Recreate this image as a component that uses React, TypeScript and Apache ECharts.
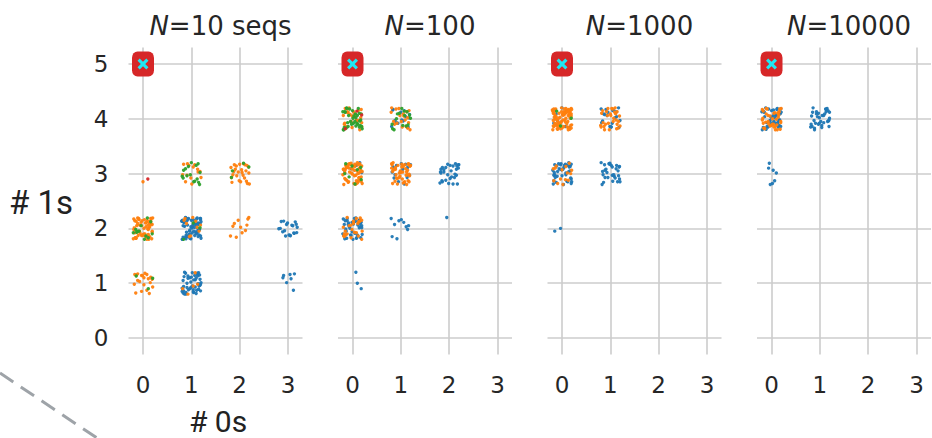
import React, { useEffect, useRef } from "react";
import * as echarts from "echarts";

const W = 932;
const H = 438;

const TITLES = ["10 seqs", "100", "1000", "10000"];
const X_TICKS = [0, 1, 2, 3];
const Y_TICKS = [0, 1, 2, 3, 4, 5];
const X_MIN = -0.3;
const X_MAX = 3.3;
const Y_MIN = -0.3;
const Y_MAX = 5.3;

const BLUE = "#1f77b4";
const ORANGE = "#ff7f0e";
const GREEN = "#2ca02c";
const RED = "#d62728";
const CYAN = "#1fe8f4";

// hand-typed jitter offsets (strip-plot jitter, +-0.2)
const JX = [
  -0.17, 0.08, 0.15, -0.03, 0.19, -0.11, 0.02, -0.19, 0.12, -0.07,
  0.05, 0.17, -0.14, 0.1, -0.01, -0.16, 0.18, 0.04, -0.09, 0.13,
  -0.05, 0.2, -0.12, 0.07, -0.18, 0.01, 0.14, -0.08, 0.11, -0.2,
  0.06, 0.16, -0.04, -0.13, 0.09, 0.19, -0.15, 0.03, -0.1, 0.12,
  -0.02, 0.17, -0.19, 0.05, 0.14, -0.06, -0.16, 0.1, 0.0, -0.12,
  0.18, 0.07, -0.09, 0.15, -0.17, 0.02, 0.11, -0.14, 0.2, -0.03,
  0.08, -0.18, 0.13, -0.07, 0.04, 0.16, -0.11, -0.01, 0.19, -0.15,
];
const JY = [
  0.12, -0.18, 0.05, 0.16, -0.07, -0.13, 0.19, 0.01, -0.1, 0.14,
  -0.02, 0.08, -0.2, 0.17, -0.05, 0.1, -0.15, 0.03, 0.18, -0.09,
  0.13, -0.17, 0.06, -0.01, 0.15, -0.12, 0.2, -0.06, 0.09, -0.19,
  0.02, 0.11, -0.14, 0.18, -0.04, 0.07, -0.16, 0.14, -0.08, 0.0,
  0.17, -0.11, 0.04, -0.18, 0.12, 0.19, -0.03, -0.13, 0.08, -0.2,
  0.15, 0.01, -0.07, 0.1, -0.15, 0.06, 0.16, -0.1, -0.02, 0.13,
  -0.19, 0.09, 0.03, -0.12, 0.18, -0.05, 0.11, -0.17, 0.05, -0.08,
  0.14, -0.14, 0.07,
];

// clusters: [#0s, #1s, count, spreadX, spreadY]
const P1_BLUE = [[1, 2, 68], [1, 1, 48], [3, 2, 20, 1, 0.7], [3, 1, 7, 0.7, 1]];
const P1_ORANGE = [[0, 2, 58], [0, 1, 22], [1, 3, 14], [2, 3, 26], [2, 2, 11], [1, 2, 10], [1, 1, 5]];
const P1_GREEN = [[1, 3, 16], [2, 3, 4], [0, 2, 12], [0, 1, 3], [1, 2, 3]];
const P1_SINGLE_ORANGE = [[0.0, 2.85]];
const P1_SINGLE_RED = [[0.1, 2.9]];

const P2_BLUE = [[0, 2, 40], [1, 2, 10], [2, 3, 30], [1, 3, 15], [1, 4, 15], [0, 3, 5]];
const P2_ORANGE = [[0, 3, 60], [1, 3, 45], [0, 4, 25], [1, 4, 20], [0, 2, 25]];
const P2_GREEN = [[0, 4, 35], [1, 4, 15], [0, 3, 8]];
const P2_RED = [[0, 4, 3]];
const P2_SINGLE_BLUE = [[1.95, 2.2], [0.07, 1.2], [0.1, 1.0], [0.18, 0.9]];

const P3_BLUE = [[0, 4, 8], [1, 4, 20], [0, 3, 40], [1, 3, 30]];
const P3_ORANGE = [[0, 4, 80], [1, 4, 30], [0, 3, 15]];
const P3_GREEN = [[0, 4, 3]];
const P3_SINGLE_BLUE = [[-0.15, 1.95], [-0.03, 2.0]];

const P4_BLUE = [[0, 4, 40], [1, 4, 35], [0, 3, 7, 0.5, 1]];
const P4_ORANGE = [[0, 4, 40]];

const TARGET = [[0, 5]];

const PANELS = [
  { blue: P1_BLUE, orange: P1_ORANGE, green: P1_GREEN, red: [], sBlue: [], sOrange: P1_SINGLE_ORANGE, sRed: P1_SINGLE_RED },
  { blue: P2_BLUE, orange: P2_ORANGE, green: P2_GREEN, red: P2_RED, sBlue: P2_SINGLE_BLUE, sOrange: [], sRed: [] },
  { blue: P3_BLUE, orange: P3_ORANGE, green: P3_GREEN, red: [], sBlue: P3_SINGLE_BLUE, sOrange: [], sRed: [] },
  { blue: P4_BLUE, orange: P4_ORANGE, green: [], red: [], sBlue: [], sOrange: [], sRed: [] },
];

function expand(clusters: number[][], seed: number): number[][] {
  const pts: number[][] = [];
  clusters.forEach((c, ci) => {
    const [x, y, n, sx = 1, sy = 1] = c;
    for (let i = 0; i < n; i++) {
      const k = seed * 13 + ci * 29 + i;
      pts.push([
        x + JX[k % JX.length] * sx,
        y + JY[(k * 2 + ci * 7 + seed) % JY.length] * sy,
      ]);
    }
  });
  return pts;
}

const GRID_LEFT0 = 128.5;
const GRID_STEP = 209.5;
const GRID_W = 174;
const GRID_TOP = 47.6;
const GRID_H = 306.8;

export default function App() {
  const ref = useRef<HTMLDivElement>(null);
  useEffect(() => {
    if (!ref.current) return;
    const chart = echarts.init(ref.current, undefined, { renderer: "svg" });
    const grid: any[] = [];
    const xAxis: any[] = [];
    const yAxis: any[] = [];
    const series: any[] = [];
    const title: any[] = [];
    const tickFont = "DejaVu Sans";
    PANELS.forEach((p, i) => {
      const left = GRID_LEFT0 + GRID_STEP * i;
      grid.push({ left, top: GRID_TOP, width: GRID_W, height: GRID_H });
      xAxis.push({
        type: "value",
        gridIndex: i,
        min: X_MIN,
        max: X_MAX,
        axisLine: { show: false },
        axisTick: { show: false, customValues: X_TICKS },
        axisLabel: {
          customValues: X_TICKS,
          fontSize: 23,
          fontFamily: tickFont,
          color: "#262626",
          margin: 19,
        },
        splitLine: { show: true, lineStyle: { color: "#cccccc", width: 1.6 } },
      });
      yAxis.push({
        type: "value",
        gridIndex: i,
        min: Y_MIN,
        max: Y_MAX,
        axisLine: { show: false },
        axisTick: { show: false, customValues: Y_TICKS },
        axisLabel: {
          show: i === 0,
          customValues: Y_TICKS,
          fontSize: 23,
          fontFamily: tickFont,
          color: "#262626",
          margin: 20,
        },
        splitLine: { show: true, lineStyle: { color: "#cccccc", width: 1.6 } },
      });
      title.push({
        text: "{i|N}=" + TITLES[i],
        left: left + GRID_W / 2,
        top: 8,
        textAlign: "center",
        textStyle: {
          fontSize: 26,
          fontFamily: tickFont,
          fontWeight: "normal",
          color: "#262626",
          rich: {
            i: { fontSize: 26, fontFamily: tickFont, fontStyle: "italic", color: "#262626" },
          },
        },
      });
      const pt = (data: number[][], color: string) => ({
        type: "scatter",
        xAxisIndex: i,
        yAxisIndex: i,
        data,
        symbolSize: 3.4,
        silent: true,
        clip: false,
        itemStyle: { color, opacity: 0.95 },
      });
      series.push(pt(expand(p.blue, i * 4 + 1).concat(p.sBlue), BLUE));
      series.push(pt(expand(p.orange, i * 4 + 2).concat(p.sOrange), ORANGE));
      series.push(pt(expand(p.green, i * 4 + 3), GREEN));
      series.push(pt(expand(p.red, i * 4 + 4).concat(p.sRed), RED));
      series.push({
        type: "scatter",
        xAxisIndex: i,
        yAxisIndex: i,
        data: TARGET,
        symbol: "roundRect",
        symbolSize: [22, 25],
        silent: true,
        itemStyle: { color: RED, opacity: 1 },
      });
      series.push({
        type: "scatter",
        xAxisIndex: i,
        yAxisIndex: i,
        data: TARGET,
        symbol:
          "path://M2,0 L5,3 L8,0 L10,2 L7,5 L10,8 L8,10 L5,7 L2,10 L0,8 L3,5 L0,2 Z",
        symbolSize: 11,
        silent: true,
        itemStyle: { color: CYAN, opacity: 1 },
      });
    });
    chart.setOption({
      animation: false,
      backgroundColor: "#ffffff",
      title,
      grid,
      xAxis,
      yAxis,
      series,
      graphic: [
        {
          type: "text",
          x: 41,
          y: 202,
          style: {
            text: "# 1s",
            font: "33px Roboto",
            fill: "#222222",
            textAlign: "center",
            textVerticalAlign: "middle",
          },
        },
        {
          type: "text",
          x: 218,
          y: 421,
          style: {
            text: "# 0s",
            font: "30px Roboto",
            fill: "#222222",
            textAlign: "center",
            textVerticalAlign: "middle",
          },
        },
        {
          type: "line",
          shape: { x1: 0, y1: 373, x2: 100, y2: 440 },
          style: { stroke: "#9ea3a8", lineWidth: 3, lineDash: [16, 9] },
        },
      ],
    });
    return () => chart.dispose();
  }, []);
  return (
    <div
      ref={ref}
      style={{ position: "fixed", left: 0, top: 0, width: W, height: H }}
    />
  );
}
